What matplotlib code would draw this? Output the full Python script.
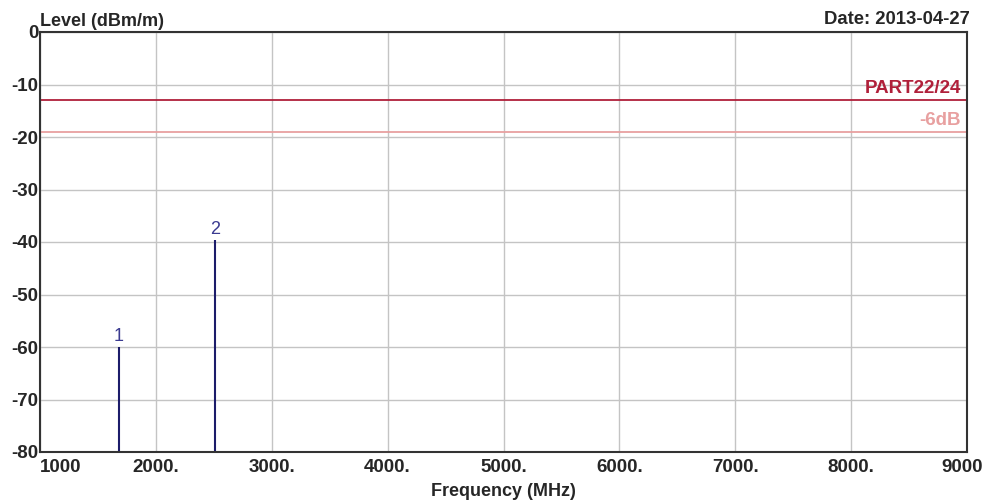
import matplotlib.pyplot as plt
from matplotlib.transforms import ScaledTranslation

plt.rcParams["font.family"] = ["Liberation Sans", "DejaVu Sans"]

# marker data
marker_ids = ["1", "2"]
marker_freq = [1680, 2508]
marker_level = [-60.0, -39.6]

# limit lines
limit_names = ["PART22/24", "-6dB"]
limit_levels = [-13, -19]
limit_colors = ["#b0203a", "#e8a0a0"]

x_ticks = [1000, 2000, 3000, 4000, 5000, 6000, 7000, 8000, 9000]
x_tick_labels = ["1000", "2000.", "3000.", "4000.", "5000.", "6000.", "7000.", "8000.", "9000"]
y_ticks = [0, -10, -20, -30, -40, -50, -60, -70, -80]

fig = plt.figure(figsize=(9.87, 5.04), dpi=100)
ax = fig.add_axes([40 / 987, 52 / 504, 927 / 987, 420 / 504])

ax.set_xlim(1000, 9000)
ax.set_ylim(-80, 0)

ax.set_xticks(x_ticks)
ax.set_xticklabels(x_tick_labels, fontsize=13.5, fontweight="bold", color="#262626")
ax.set_yticks(y_ticks)
ax.set_yticklabels([str(v) for v in y_ticks], fontsize=13.5, fontweight="bold", color="#262626")
ax.tick_params(axis="y", length=0, pad=1)
ax.tick_params(axis="x", length=0, pad=5)

# first label sits right of the axis, last one pulled in a bit
ticks = ax.xaxis.get_major_ticks()
ticks[0].label1.set_horizontalalignment("left")
last = ticks[-1].label1
last.set_transform(last.get_transform() + ScaledTranslation(-5 / 100, 0, fig.dpi_scale_trans))

ax.grid(True, color="#c4c4c4", linewidth=1.0)
ax.set_axisbelow(True)
for side in ax.spines.values():
    side.set_color("#333333")
    side.set_linewidth(1.5)

for name, level, color in zip(limit_names, limit_levels, limit_colors):
    ax.axhline(level, color=color, linewidth=1.3)
    ax.text(8950, level + 0.6, name, color=color, fontsize=13.5, fontweight="bold",
            ha="right", va="bottom")

for mid, f, lv in zip(marker_ids, marker_freq, marker_level):
    ax.vlines(f, -80, lv, color="#1c1c6a", linewidth=1.5)
    ax.text(f, lv + 0.4, mid, color="#3a3a90", fontsize=13, ha="center", va="bottom")

fig.text(40 / 987, 1 - 30 / 504, "Level (dBm/m)", fontsize=13, fontweight="bold",
         color="#262626", ha="left", va="bottom")
fig.text(970 / 987, 1 - 28 / 504, "Date: 2013-04-27", fontsize=13.3, fontweight="bold",
         color="#262626", ha="right", va="bottom")
ax.set_xlabel("Frequency (MHz)", fontsize=13, fontweight="bold", color="#262626", labelpad=5)

fig.savefig("out.png", dpi=100)
